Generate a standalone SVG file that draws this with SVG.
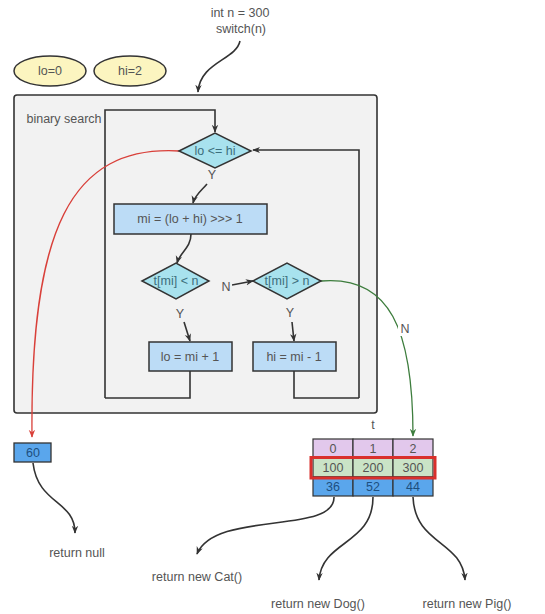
<svg xmlns="http://www.w3.org/2000/svg" width="545" height="614" viewBox="0 0 545 614">
<defs>
<style>
text{font-family:"Liberation Sans",Arial,sans-serif;font-size:12.5px;fill:#555;text-anchor:middle;dominant-baseline:central}
.dk{stroke:#333;stroke-width:1.6;fill:none}
.box{fill:#bcdcf6;stroke:#333;stroke-width:1.5}
.dia{fill:#a8e2ee;stroke:#333;stroke-width:1.5}
.ell{fill:#fcf5c0;stroke:#333;stroke-width:1.5}
.cell{stroke:#333;stroke-width:1.2}
.lbl{fill:#f2f2f2}
</style>
<marker id="ah" viewBox="0 0 10 10" refX="9" refY="5" markerWidth="8" markerHeight="8" orient="auto-start-reverse" markerUnits="userSpaceOnUse"><path d="M0,1 L10,5 L0,9 L3,5 Z" fill="#333"/></marker>
<marker id="ahr" viewBox="0 0 10 10" refX="9" refY="5" markerWidth="8" markerHeight="8" orient="auto" markerUnits="userSpaceOnUse"><path d="M0,1 L10,5 L0,9 L3,5 Z" fill="#d9403a"/></marker>
<marker id="ahg" viewBox="0 0 10 10" refX="9" refY="5" markerWidth="8" markerHeight="8" orient="auto" markerUnits="userSpaceOnUse"><path d="M0,1 L10,5 L0,9 L3,5 Z" fill="#3d7d3d"/></marker>
</defs>
<rect width="545" height="614" fill="#fff"/>

<g id="header">
<text x="240" y="13">int n = 300</text>
<text x="241" y="29">switch(n)</text>
</g>
<g id="lo0"><ellipse cx="50" cy="71" rx="36" ry="15" class="ell"/><text x="50" y="71">lo=0</text></g>
<g id="hi2"><ellipse cx="130" cy="71" rx="36" ry="15" class="ell"/><text x="130" y="71">hi=2</text></g>

<g id="binary-search">
<rect x="14" y="95" width="363" height="318" rx="3" fill="#f2f2f2" stroke="#333" stroke-width="1.6"/>
<text x="64" y="119">binary search</text>
</g>

<g id="connectors">
<path class="dk" d="M240,41 C236,60 200,62 198,92" marker-end="url(#ah)"/>
<path class="dk" d="M105,398 V110 H215 V132" marker-end="url(#ah)"/>
<path class="dk" d="M359,398 V150 H253" marker-end="url(#ah)"/>
<path class="dk" d="M190,371 V398 H105"/>
<path class="dk" d="M294,371 V398 H359"/>
<path class="dk" d="M207,184 C202,190 195,195 193,203" marker-end="url(#ah)"/>
<path class="dk" d="M191,234 C191,248 180,252 177,263" marker-end="url(#ah)"/>
<path class="dk" d="M232,285 L253,281" marker-end="url(#ah)"/>
<path class="dk" d="M184,322 L190,341" marker-end="url(#ah)"/>
<path class="dk" d="M292,322 L294,341" marker-end="url(#ah)"/>
<path d="M179,151 C70,145 30,230 32,437" fill="none" stroke="#d9403a" stroke-width="1.3" marker-end="url(#ahr)"/>
<path d="M321,281 C390,275 413,330 413,436" fill="none" stroke="#3d7d3d" stroke-width="1.3" marker-end="url(#ahg)"/>
<path class="dk" d="M33,463 C38,505 75,500 75,533" marker-end="url(#ah)"/>
<path class="dk" d="M334,497 C335,535 215,510 197,554" marker-end="url(#ah)"/>
<path class="dk" d="M373,497 C373,545 322,540 319,580" marker-end="url(#ah)"/>
<path class="dk" d="M413,497 C415,545 462,540 465,580" marker-end="url(#ah)"/>
<rect x="206" y="168" width="12" height="13" class="lbl"/><text x="212" y="175">Y</text>
<rect x="220" y="280" width="12" height="13" class="lbl"/><text x="226" y="287">N</text>
<rect x="174" y="307" width="12" height="13" class="lbl"/><text x="180" y="314">Y</text>
<rect x="284" y="306" width="12" height="13" class="lbl"/><text x="290" y="313">Y</text>
<rect x="398" y="321" width="14" height="15" fill="#fff"/><text x="405" y="329">N</text>
</g>

<g id="cond-lo-hi"><polygon points="179,151 215,133 251,151 215,168" class="dia"/><text x="215" y="151" style="fill:#3d6e7c">lo &lt;= hi</text></g>
<g id="calc-mi"><rect x="114" y="204" width="153" height="30" class="box"/><text x="190" y="219">mi = (lo + hi) &gt;&gt;&gt; 1</text></g>
<g id="cond-lt"><polygon points="142,281 176,263 209,281 176,299" class="dia"/><text x="176" y="281" style="fill:#3d6e7c">t[mi] &lt; n</text></g>
<g id="cond-gt"><polygon points="253,281 287,263 321,281 287,299" class="dia"/><text x="287" y="281" style="fill:#3d6e7c">t[mi] &gt; n</text></g>
<g id="lo-inc"><rect x="149" y="342" width="83" height="29" class="box"/><text x="190" y="357">lo = mi + 1</text></g>
<g id="hi-dec"><rect x="253" y="342" width="83" height="29" class="box"/><text x="294" y="357">hi = mi - 1</text></g>

<g id="sixty"><rect x="14" y="443" width="37" height="19" fill="#5aa6ec" stroke="#333" stroke-width="1.3"/><text x="33" y="453" style="fill:#1d4f80">60</text></g>

<g id="table-t">
<text x="373" y="425">t</text>
<rect x="313" y="439" width="40" height="19" fill="#e2c8ec" class="cell"/>
<rect x="353" y="439" width="40" height="19" fill="#e2c8ec" class="cell"/>
<rect x="393" y="439" width="40" height="19" fill="#e2c8ec" class="cell"/>
<rect x="313" y="458" width="40" height="19" fill="#cae3c6" class="cell"/>
<rect x="353" y="458" width="40" height="19" fill="#cae3c6" class="cell"/>
<rect x="393" y="458" width="40" height="19" fill="#cae3c6" class="cell"/>
<rect x="313" y="477" width="40" height="19" fill="#5aa6ec" class="cell"/>
<rect x="353" y="477" width="40" height="19" fill="#5aa6ec" class="cell"/>
<rect x="393" y="477" width="40" height="19" fill="#5aa6ec" class="cell"/>
<text x="333" y="449">0</text><text x="373" y="449">1</text><text x="413" y="449">2</text>
<text x="333" y="468">100</text><text x="373" y="468">200</text><text x="413" y="468">300</text>
<text x="333" y="487" style="fill:#1d4f80">36</text><text x="373" y="487" style="fill:#1d4f80">52</text><text x="413" y="487" style="fill:#1d4f80">44</text>
<rect x="311" y="457.5" width="124" height="20.5" fill="none" stroke="#d9302c" stroke-width="3"/>
</g>

<g id="ret-null"><text x="77" y="553">return null</text></g>
<g id="ret-cat"><text x="197" y="577">return new Cat()</text></g>
<g id="ret-dog"><text x="318" y="604">return new Dog()</text></g>
<g id="ret-pig"><text x="467" y="604">return new Pig()</text></g>
</svg>
